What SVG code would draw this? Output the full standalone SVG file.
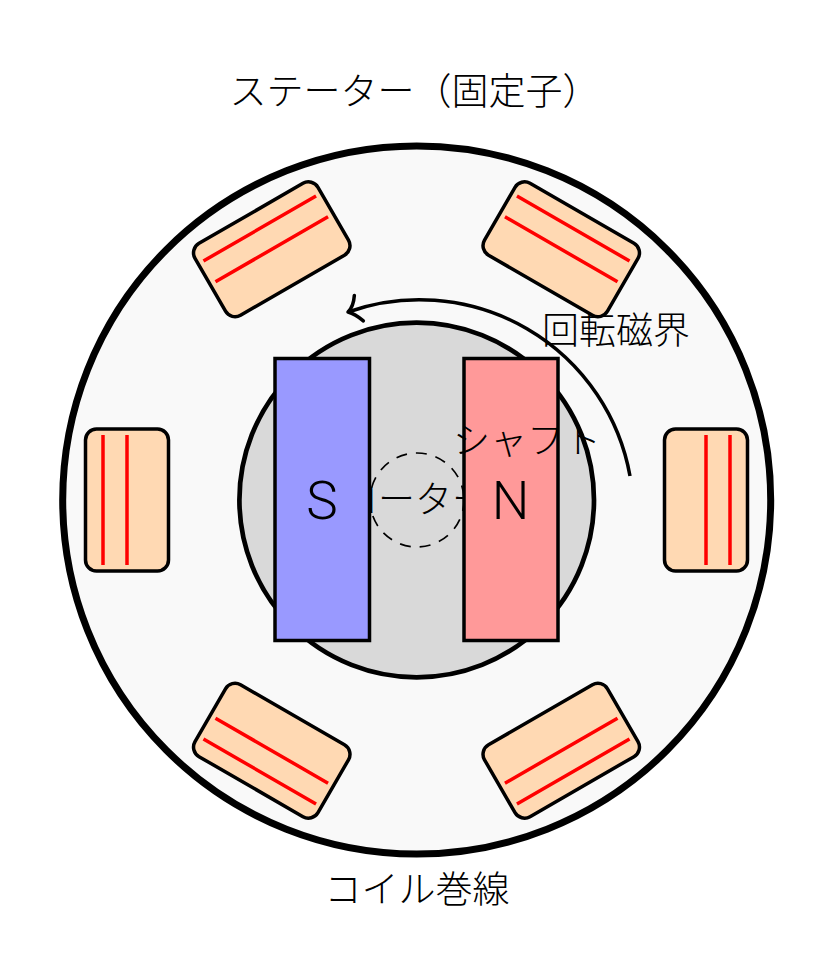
<svg xmlns="http://www.w3.org/2000/svg" width="834" height="980" viewBox="0 0 834 980">
<style>
.t{font-family:"Noto Sans CJK JP","Liberation Sans",sans-serif;font-size:37px;font-weight:300;fill:#000;text-anchor:middle}
.l{font-family:Roboto,"Liberation Sans",sans-serif;font-size:53px;font-weight:300;fill:#000;text-anchor:middle}
.c{fill:#ffd9b3;stroke:#000;stroke-width:3.500}
.w{stroke:#f00;stroke-width:3.500;fill:none}
.m{stroke:#000;stroke-width:3.500}
</style>
<defs>
<marker id="open" markerUnits="userSpaceOnUse" markerWidth="40" markerHeight="40" viewBox="-20 -20 40 40" refX="0" refY="0" orient="auto" overflow="visible">
<path d="M-11.5,-13.5Q-6,-4 0,0Q-7,3 -11.5,13.5" fill="none" stroke="#000" stroke-width="3.500" stroke-linecap="round" stroke-linejoin="round"/>
</marker>
</defs>
<rect width="834" height="980" fill="#fff"/>
<g id="stator"><circle cx="416.700" cy="500" r="354" fill="#f9f9f9" stroke="#000" stroke-width="7"/></g>
<text class="t" x="414.500" y="105">ステーター（固定子）</text>
<g id="coil-0" transform="rotate(0 416.5 500)"><rect class="c" x="664.5" y="429" width="83" height="142" rx="11"/><path class="w" d="M706,435V565M730,435V565"/></g>
<g id="coil-60" transform="rotate(60 416.5 500)"><rect class="c" x="664.5" y="429" width="83" height="142" rx="11"/><path class="w" d="M706,435V565M730,435V565"/></g>
<g id="coil-120" transform="rotate(120 416.5 500)"><rect class="c" x="664.5" y="429" width="83" height="142" rx="11"/><path class="w" d="M706,435V565M730,435V565"/></g>
<g id="coil-180" transform="rotate(180 416.5 500)"><rect class="c" x="664.5" y="429" width="83" height="142" rx="11"/><path class="w" d="M706,435V565M730,435V565"/></g>
<g id="coil-240" transform="rotate(240 416.5 500)"><rect class="c" x="664.5" y="429" width="83" height="142" rx="11"/><path class="w" d="M706,435V565M730,435V565"/></g>
<g id="coil-300" transform="rotate(300 416.5 500)"><rect class="c" x="664.5" y="429" width="83" height="142" rx="11"/><path class="w" d="M706,435V565M730,435V565"/></g>
<g id="rotor"><circle cx="416.700" cy="500" r="177.300" fill="#d9d9d9" stroke="#000" stroke-width="4.700"/>
<text class="t" x="415" y="513">ローター</text></g>
<g id="magnet-s"><rect class="m" x="275" y="358.500" width="94.500" height="282" fill="#9999ff"/><text class="l" x="322" y="519">S</text></g>
<g id="magnet-n"><rect class="m" x="464" y="358.500" width="94" height="282" fill="#ff9999"/><text class="l" x="510.500" y="519">N</text></g>
<g id="shaft"><circle cx="417" cy="500" r="47" fill="none" stroke="#000" stroke-width="1.700" stroke-dasharray="11 9"/>
<text class="t" x="527" y="454">シャフト</text></g>
<g id="connectors"><path d="M630,476A214,214 0 0 0 348,312" fill="none" stroke="#000" stroke-width="3.500" marker-end="url(#open)"/></g>
<text class="t" x="616" y="344">回転磁界</text>
<text class="t" x="417" y="903">コイル巻線</text>
</svg>
